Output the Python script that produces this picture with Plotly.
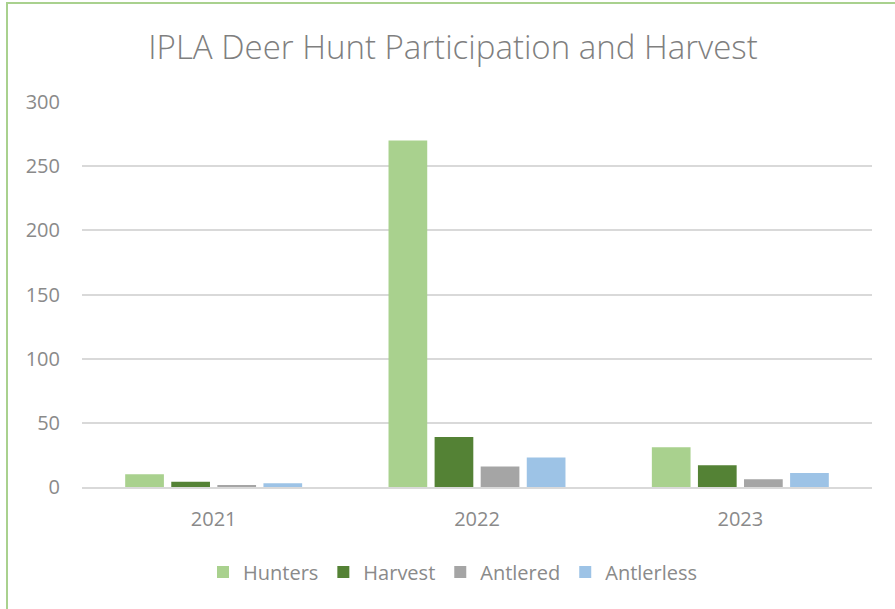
import plotly.graph_objects as go

years = ["2021", "2022", "2023"]
series_names = ["Hunters", "Harvest", "Antlered", "Antlerless"]
hunters = [10, 270, 31]
harvest = [4, 39, 17]
antlered = [1, 16, 6]
antlerless = [3, 23, 11]
colors = ["#A9D18E", "#548235", "#A5A5A5", "#9DC3E6"]
y_ticks = [0, 50, 100, 150, 200, 250, 300]

W, H = 895, 609
L, R, T, B = 82, 23, 102, 122
pw, ph = W - L - R, H - T - B

def px_x(p):
    return (p - L) / pw

def px_y(p):
    return (H - B - p) / ph

fig = go.Figure()
for name, vals, c in zip(series_names, [hunters, harvest, antlered, antlerless], colors):
    fig.add_trace(go.Bar(name=name, x=years, y=vals, marker=dict(color=c, line=dict(width=0))))

font_family = "Open Sans"
txt = "#8A8A8A"

fig.update_layout(
    width=W, height=H,
    margin=dict(l=L, r=R, t=T, b=B),
    paper_bgcolor="white", plot_bgcolor="white",
    barmode="group", bargap=0.3, bargroupgap=0.16,
    title=dict(text="IPLA Deer Hunt Participation and Harvest",
               x=453 / W, xref="container", xanchor="center",
               y=1 - 47 / H, yref="container", yanchor="middle",
               font=dict(family=font_family, size=33, color="#7F7F7F", weight=300)),
    font=dict(family=font_family, color=txt, size=20),
    showlegend=True,
    legend=dict(orientation="h", x=453 / W, xref="container", xanchor="center",
                y=1 - 572 / H, yref="container", yanchor="middle",
                font=dict(family=font_family, size=20, color=txt),
                itemwidth=30, traceorder="normal"),
    xaxis=dict(showgrid=False, showline=True, linecolor="#D9D9D9", linewidth=1.5,
               ticks="", ticklabelstandoff=13, tickfont=dict(size=20, color=txt)),
    yaxis=dict(range=[0, 300], tickvals=y_ticks, showgrid=True, gridcolor="#D9D9D9",
               gridwidth=1.5, zeroline=False, showline=False, ticks="",
               ticklabelstandoff=21, tickfont=dict(size=20, color=txt)),
    shapes=[
        dict(type="line", xref="paper", yref="paper", x0=px_x(7), x1=px_x(7),
             y0=px_y(2), y1=px_y(H + 5), line=dict(color="#A9D18E", width=2)),
        dict(type="line", xref="paper", yref="paper", x0=px_x(6), x1=px_x(W + 5),
             y0=px_y(3), y1=px_y(3), line=dict(color="#A9D18E", width=2)),
    ],
)

fig.write_html("out.html", config={"displayModeBar": False},
               post_script="document.body.style.margin='0px';document.body.style.overflow='hidden';")
